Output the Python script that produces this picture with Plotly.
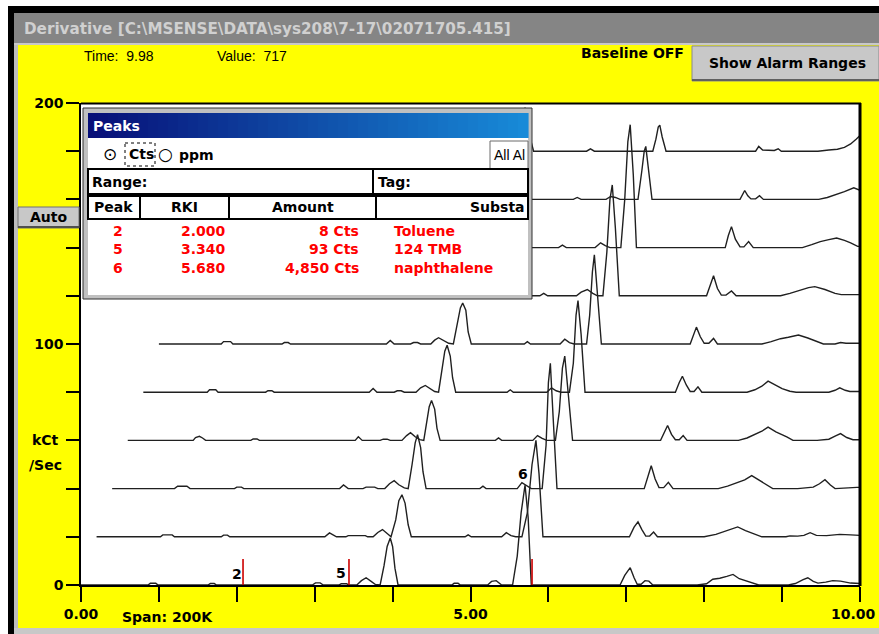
import numpy as np
import plotly.graph_objects as go

W, H = 879, 634

# ---------------- data (local time [min], local signal [kCt/s]) ----------------
scan0 = [(0.00,0),(0.86,0),(0.89,0.7),(0.96,0.7),(0.99,0),(1.63,0),(1.66,0.6),(1.71,0.6),(1.74,0),
         (2.97,0),(3.01,0.9),(3.07,0.9),(3.11,0),(3.31,0),(3.34,0.5),(3.41,0.5),(3.44,0),
         (3.54,0),(3.60,1.8),(3.66,3.0),(3.72,1.6),(3.78,0.2),(3.84,0),
         (3.89,8),(3.93,16),(3.97,19.5),(4.00,16),(4.03,7),(4.07,0),
         (4.76,0),(4.79,0.7),(4.84,0.7),(4.87,0),(5.22,0),(5.27,1.5),(5.33,1.8),(5.40,0),
         (5.54,0),(5.60,12),(5.65,30),(5.70,41.5),(5.74,28),(5.78,0),
         (6.92,0),(6.98,4),(7.05,7.2),(7.10,3),(7.14,0.3),(7.19,0.3),(7.24,1.8),(7.29,1.6),(7.34,0),
         (7.91,0),(8.03,0.5),(8.11,2.4),(8.20,2.8),(8.29,3.6),(8.37,4.4),(8.45,2.6),(8.55,1.6),(8.64,0.8),(8.70,0),
         (9.08,0),(9.17,0.6),(9.27,2.2),(9.33,3.0),(9.40,1.5),(9.46,0.8),(9.56,1.2),(9.65,1.8),(9.75,1.6),(9.88,0.8),(10.00,0.6)]
scan1 = [(0.00,0),(0.82,0),(0.85,0.8),(0.97,0.8),(1.00,0),(1.60,0),(1.63,0.7),(1.68,0.7),(1.71,0),
         (2.93,0),(2.99,1.6),(3.05,0.5),(3.08,0),(3.20,0),(3.23,0.5),(3.45,0.5),(3.48,0),
         (3.55,0),(3.61,1.8),(3.67,3.0),(3.72,1.5),(3.78,0),
         (3.84,7),(3.88,15),(3.92,17.4),(3.96,14),(4.00,5),(4.04,0),
         (4.73,0),(4.77,0.8),(4.81,0),(5.20,0),(5.26,1.7),(5.32,0.5),(5.38,0),
         (5.46,0),(5.53,10),(5.59,30),(5.64,40),(5.68,26),(5.73,0),
         (6.84,0),(6.90,4),(6.95,6.2),(7.00,3),(7.05,0.3),(7.10,0.3),(7.15,2),(7.20,0),
         (7.80,0),(7.95,1.0),(8.04,2.0),(8.12,2.8),(8.23,4.1),(8.33,2.6),(8.45,1.0),(8.54,0),
         (8.85,0),(8.90,0.4),(9.00,0.3),(9.08,0.6),(9.16,1.7),(9.24,0.6),(9.37,0.5),(9.54,1.0),(9.68,0.8),(9.80,0.6)]
scan2 = [(0.00,0),(0.80,0),(0.84,1.0),(0.96,1.0),(1.00,0),(1.57,0),(1.60,0.6),(1.66,0.6),(1.69,0),
         (2.92,0),(2.97,1.5),(3.03,0),(3.22,0),(3.26,0.6),(3.37,0.6),(3.41,0),
         (3.50,0),(3.56,2.0),(3.62,3.3),(3.68,1.6),(3.75,0.3),(3.80,0),
         (3.85,10),(3.89,19),(3.92,22.4),(3.96,17),(3.99,7),(4.03,0),
         (4.72,0),(4.76,1.0),(4.80,0),(5.20,0),(5.26,2.5),(5.32,1.2),(5.38,0),
         (5.52,0),(5.57,18),(5.60,44),(5.625,52),(5.66,30),(5.71,0),
         (6.83,0),(6.88,5),(6.92,9.5),(6.97,4),(7.02,0.4),(7.08,0.4),(7.14,2.6),(7.20,0),
         (7.78,0),(7.90,1.0),(8.02,2.5),(8.12,3.6),(8.21,5.4),(8.30,3.5),(8.40,1.5),(8.48,0),
         (8.80,0),(8.90,0.3),(9.00,0.6),(9.08,2.0),(9.15,3.7),(9.22,1.5),(9.28,0),(9.56,0.5),(9.80,0.5)]
scan3 = [(0.00,0),(0.84,0),(0.87,1.2),(0.92,1.7),(0.96,1.0),(1.00,0),(1.58,0),(1.61,0.6),(1.66,0.6),(1.69,0),
         (2.92,0),(2.96,1.5),(3.01,0),(3.24,0),(3.28,0.5),(3.33,0.5),(3.37,0),
         (3.52,0),(3.58,2.0),(3.63,3.2),(3.69,1.5),(3.75,0.3),(3.80,0),
         (3.84,8),(3.87,14),(3.90,16.6),(3.94,13),(3.97,5),(4.01,0),
         (4.72,0),(4.76,1.0),(4.80,0),(5.20,0),(5.26,2.0),(5.32,0.8),(5.38,0),
         (5.49,0),(5.54,12),(5.58,30),(5.61,35),(5.65,22),(5.71,0),
         (6.84,0),(6.89,3.5),(6.93,6.2),(6.98,2.5),(7.03,0.3),(7.08,0.3),(7.13,2.0),(7.18,0),
         (7.84,0),(7.95,1.0),(8.06,2.5),(8.14,3.8),(8.22,5.5),(8.32,3.5),(8.46,1.5),(8.54,0),
         (8.85,0),(9.00,0.5),(9.08,1.8),(9.15,2.8),(9.23,1.2),(9.31,0.3),(9.60,0.3)]
scan4 = [(0.00,0),(0.82,0),(0.85,1.0),(0.93,1.0),(0.96,0),(1.57,0),(1.60,0.6),(1.65,0.6),(1.68,0),
         (2.90,0),(2.95,1.5),(3.00,0),(3.22,0),(3.26,0.6),(3.31,0.6),(3.35,0),
         (3.50,0),(3.56,1.8),(3.62,2.8),(3.68,1.4),(3.74,0.3),(3.79,0),
         (3.83,9),(3.87,17),(3.90,19.5),(3.94,15),(3.97,6),(4.01,0),
         (4.67,0),(4.71,1.0),(4.75,0),(5.18,0),(5.24,1.8),(5.30,0.6),(5.36,0),
         (5.47,0),(5.52,12),(5.555,32),(5.58,38),(5.62,24),(5.67,0),
         (6.83,0),(6.88,4),(6.92,6.6),(6.97,3),(7.02,0.3),(7.07,0.3),(7.12,2.2),(7.17,0),
         (7.75,0),(7.85,1.0),(7.94,2.5),(8.02,4.6),(8.10,3.2),(8.20,1.5),(8.30,0.4),(8.38,0),
         (8.80,0),(8.88,0.8),(8.94,1.8),(9.01,0.8),(9.07,0.3),(9.40,0.3)]
scan5 = [(0.00,0),(0.80,0),(0.83,1.0),(0.92,1.0),(0.95,0),(1.58,0),(1.61,0.6),(1.66,0.6),(1.69,0),
         (2.92,0),(2.97,1.5),(3.02,0),(3.23,0),(3.27,0.6),(3.32,0.6),(3.36,0),
         (3.49,0),(3.54,1.6),(3.59,2.6),(3.65,1.5),(3.72,0.3),(3.78,0),
         (3.83,8),(3.87,15),(3.90,17),(3.94,14),(3.97,5),(4.01,0),
         (4.69,0),(4.73,1.0),(4.77,0),(5.15,0),(5.21,2.0),(5.27,0.6),(5.33,0),
         (5.49,0),(5.53,12),(5.565,30),(5.59,37),(5.63,22),(5.68,0),
         (6.82,0),(6.86,4),(6.90,7),(6.95,3),(7.00,0.3),(7.06,0.3),(7.12,2.3),(7.17,0),
         (7.74,0),(7.86,1.0),(7.98,2.2),(8.08,2.8),(8.21,3.7),(8.33,2.5),(8.45,1.0),(8.53,0),
         (8.68,0),(8.75,0.6),(8.82,0.3),(8.88,0.3),(9.00,0.3)]
scan6 = [(0.00,0),(0.82,0),(0.85,1.0),(0.94,1.0),(0.97,0),(1.58,0),(1.61,0.6),(1.66,0.6),(1.69,0),
         (2.92,0),(2.97,1.5),(3.02,0),(3.23,0),(3.27,0.6),(3.32,0.6),(3.36,0),
         (3.50,0),(3.56,1.8),(3.61,2.8),(3.67,1.4),(3.74,0.3),(3.79,0),
         (3.83,9),(3.87,16),(3.90,18),(3.94,14),(3.97,5),(4.01,0),
         (4.69,0),(4.74,1.0),(4.79,0),(5.16,0),(5.22,1.5),(5.30,2.6),(5.37,1.0),(5.43,0),
         (5.50,0),(5.55,18),(5.59,40),(5.62,46),(5.66,28),(5.71,0),
         (6.83,0),(6.88,5),(6.92,8.3),(6.97,3),(7.02,0.3),(7.08,0.3),(7.15,2.0),(7.21,0),
         (7.78,0),(7.90,1.0),(8.04,2.5),(8.14,3.4),(8.22,3.8),(8.35,2.6),(8.48,1.0),(8.56,0.5),(8.80,0.5)]
scan7 = [(0.00,0),(0.82,0),(0.85,1.0),(0.94,1.0),(0.97,0),(1.58,0),(1.61,0.6),(1.66,0.6),(1.69,0),
         (2.92,0),(2.97,1.5),(3.02,0),(3.23,0),(3.27,0.6),(3.32,0.6),(3.36,0),
         (3.50,0),(3.56,1.8),(3.61,2.8),(3.67,1.4),(3.74,0.3),(3.79,0),
         (3.83,9),(3.87,16),(3.90,18),(3.94,14),(3.97,5),(4.01,0),
         (4.73,0),(4.78,1.0),(4.83,0),(5.20,0),(5.27,2.0),(5.33,0.8),(5.39,0),
         (5.53,0),(5.58,20),(5.62,44),(5.65,51),(5.69,30),(5.73,0),
         (6.87,0),(6.91,5),(6.95,8.7),(7.00,3.5),(7.06,0.3),(7.11,0.3),(7.17,2.5),(7.23,0),
         (7.86,0),(7.98,1.2),(8.09,2.5),(8.20,3.3),(8.30,4.0),(8.40,3.0),(8.48,2.0),(8.57,0.5),(8.70,0.5)]
scan8 = [(0.00,0),(0.82,0),(0.85,1.0),(0.94,1.0),(0.97,0),(1.58,0),(1.61,0.6),(1.66,0.6),(1.69,0),
         (2.92,0),(2.97,1.5),(3.02,0),(3.23,0),(3.27,0.6),(3.32,0.6),(3.36,0),
         (3.50,0),(3.56,1.8),(3.61,2.8),(3.67,1.4),(3.74,0.3),(3.79,0),
         (3.83,9),(3.87,16),(3.90,18),(3.94,14),(3.97,5),(4.01,0),
         (4.72,0),(4.77,0.8),(4.82,0),(5.14,0),(5.20,1.2),(5.26,0.8),(5.32,0),
         (5.55,0),(5.60,12),(5.63,20),(5.65,22),(5.68,14),(5.73,0),
         (6.86,0),(6.89,2),(6.92,3.7),(6.96,1.5),(7.00,0.2),(7.06,0.2),(7.11,1.5),(7.16,0),
         (7.87,0),(7.98,0.8),(8.10,2.0),(8.20,3.2),(8.32,4.8),(8.40,3.8)]
scan9 = [(0.00,0),(0.82,0),(0.85,1.0),(0.94,1.0),(0.97,0),(1.58,0),(1.61,0.6),(1.66,0.6),(1.69,0),
         (2.92,0),(2.97,1.5),(3.02,0),(3.23,0),(3.27,0.6),(3.32,0.6),(3.36,0),
         (3.50,0),(3.56,1.8),(3.61,2.8),(3.67,1.4),(3.74,0.3),(3.79,0),
         (3.83,9),(3.87,16),(3.90,18),(3.94,14),(3.97,5),(4.01,0),
         (4.69,0),(4.74,1.0),(4.79,0),
         (5.54,0),(5.58,5),(5.61,10),(5.63,10.8),(5.66,6),(5.71,0),
         (6.86,0),(6.90,2.0),(6.95,0.5),(7.10,0.3),(7.15,1.0),(7.19,0),
         (7.66,0),(7.80,0.5),(7.91,0.8),(8.00,1.6),(8.08,3.0),(8.15,5.0),(8.20,6.5)]
SCANS = [scan0, scan1, scan2, scan3, scan4, scan5, scan6, scan7, scan8, scan9]
X_STEP = 0.2   # time shift per scan (waterfall)
Y_STEP = 20    # kCt/s shift per scan

peak_ids = ["2", "5", "6"]
peak_rki = [2.000, 3.340, 5.680]
peak_amount = ["8 Cts", "93 Cts", "4,850 Cts"]
peak_substance = ["Toluene", "124 TMB", "naphthalene"]
marker_times = [2.08, 3.44, 5.79]
marker_height = 10.8

x_tick_vals = list(range(0, 11))
x_tick_text = ["0.00", "", "", "", "", "5.00", "", "", "", "", ""]
x_last_label = "10.00"
y_tick_vals = list(range(0, 201, 20))
y_tick_text = ["0", "", "", "", "", "100", "", "", "", "", "200"]

# ---------------- figure ----------------
FONT = "DejaVu Sans"
fig = go.Figure()

for k, scan in enumerate(SCANS):
    t = np.array([p[0] for p in scan]) + k * X_STEP
    v = np.array([p[1] for p in scan]) + k * Y_STEP
    fig.add_trace(go.Scatter(x=t, y=v, mode="lines",
                             line=dict(color="#202020", width=1.4),
                             hoverinfo="skip", showlegend=False))

mx, my = [], []
for t in marker_times:
    mx += [t, t, None]
    my += [0, marker_height, None]
fig.add_trace(go.Scatter(x=mx, y=my, mode="lines", line=dict(color="#cc0000", width=1.6),
                         hoverinfo="skip", showlegend=False))

front_t = np.array([p[0] for p in scan0])
front_v = np.array([p[1] for p in scan0])
annotations = []
for pid, r in zip(peak_ids, peak_rki):
    win = (front_t > r - 0.06) & (front_t < r + 0.06)
    top = max(np.interp(r, front_t, front_v), front_v[win].max() if win.any() else 0)
    annotations.append(dict(x=r, y=top, xref="x", yref="y", text="<b>%s</b>" % pid,
                            showarrow=False, xanchor="center", yanchor="bottom", yshift=1,
                            font=dict(family=FONT, size=14, color="black")))


def PX(x):
    return x / W


def PY(y):
    return 1 - y / H


shapes = []


def rect(x0, y0, x1, y1, fill, line=None, lw=0, dash=None):
    ln = dict(width=lw, color=line if line else fill)
    if dash:
        ln["dash"] = dash
    shapes.append(dict(type="rect", xref="paper", yref="paper", x0=PX(x0), x1=PX(x1),
                       y0=PY(y0), y1=PY(y1), fillcolor=fill, line=ln, layer="above"))


def seg(x0, y0, x1, y1, color, lw=1):
    shapes.append(dict(type="line", xref="paper", yref="paper", x0=PX(x0), x1=PX(x1),
                       y0=PY(y0), y1=PY(y1), line=dict(color=color, width=lw), layer="above"))


def txt(x, y, s, size=14, color="black", bold=True, xanchor="left", family=FONT):
    annotations.append(dict(x=PX(x), y=PY(y), xref="paper", yref="paper",
                            text=("<b>%s</b>" % s) if bold else s, showarrow=False,
                            xanchor=xanchor, yanchor="middle",
                            font=dict(family=family, size=size, color=color)))


# window frame
rect(0, 0, W, 7, "white")
rect(0, 0, 8, H, "white")
rect(8, 6, W, 13, "black")
rect(8, 6, 14, H, "black")
rect(14, 13, 18, H, "#bdbdbd")
rect(14, 13, W, 43, "#858585")
rect(14, 43, W, 45, "#c8c8c8")
rect(14, 628, W, H, "#c8c8c8")
txt(22, 29, r"Derivative [C:\MSENSE\DATA\sys208\7-17\02071705.415]", size=15.2, color="#d0d0d0")

# header texts and buttons
nb = "\u00a0"
txt(82, 56, "Time:" + nb * 2 + "9.98", size=14, bold=False, family="Liberation Sans")
txt(215, 56, "Value:" + nb * 2 + "717", size=14, bold=False, family="Liberation Sans")
txt(579, 53, "Baseline OFF", size=14)
rect(692, 46, W, 81, "#c8c8c8", "#8a8a8a", 1)
seg(692, 80, W, 80, "#606060", 2)
txt(787, 63, "Show Alarm Ranges", size=14, xanchor="center")
rect(18, 207, 79, 228, "#c8c8c8", "#707070", 1)
seg(18, 227, 79, 227, "#505050", 2)
txt(48, 217, "Auto", size=14, xanchor="center")
txt(45, 440, "kCt", size=14, xanchor="center")
txt(45, 465, "/Sec", size=14, xanchor="center")
txt(120, 617, "Span: 200K", size=14)
# last x tick label, kept inside the window edge
annotations.append(dict(x=1.0, y=PY(614), xref="paper", yref="paper",
                        text="<b>%s</b>" % x_last_label, showarrow=False,
                        xanchor="right", yanchor="middle", xshift=-1,
                        font=dict(family=FONT, size=14, color="black")))

# plot borders
seg(81, 103.5, 861, 103.5, "black", 2)
seg(860, 103, 860, 586, "black", 3)

# Peaks panel
rect(83, 108, 532, 299, "#c0c0c0", "#303030", 1)
rect(88, 138, 528, 295, "white")
n = 44
c0 = np.array([8, 16, 120])
c1 = np.array([24, 138, 216])
for i in range(n):
    c = c0 + (c1 - c0) * i / (n - 1)
    xa = 88 + (528 - 88) * i / n
    xb = 88 + (528 - 88) * (i + 1) / n + 0.6
    rect(xa, 113, xb, 138, "rgb(%d,%d,%d)" % tuple(c.astype(int)))
txt(91, 126, "Peaks", size=14, color="white")
txt(110, 154, "\u2299", size=17, bold=False, xanchor="center")
rect(125, 143, 155, 166, "rgba(0,0,0,0)", "black", 1, "dot")
txt(127, 154, "Cts", size=14)
txt(165, 154, "\u25cb", size=17, bold=False, xanchor="center")
txt(177, 155, "ppm", size=14)
rect(490, 141, 528, 169, "white", "#6a6a6a", 1)
txt(492, 155, "All Al", size=14, bold=False, family="Liberation Sans")
rect(88, 169, 373, 194, "white", "black", 2)
rect(373, 169, 528, 194, "white", "black", 2)
txt(90, 182, "Range:", size=14)
txt(376, 182, "Tag:", size=14)
cols = [(88, 140, "Peak"), (140, 229, "RKI"), (229, 376, "Amount")]
for a, b, s in cols:
    rect(a, 196, b, 219, "white", "black", 2)
    txt((a + b) / 2, 207, s, size=14, xanchor="center")
rect(376, 196, 528, 219, "white", "black", 2)
txt(527, 207, "Substa", size=14, xanchor="right")
row_y = [231, 249, 268]
for y, pid, r, amt, sub in zip(row_y, peak_ids, peak_rki, peak_amount, peak_substance):
    txt(118, y, pid, size=14, color="#ff0000", xanchor="center")
    txt(228, y, "%.3f" % r, size=14, color="#ff0000", xanchor="right")
    txt(361, y, amt, size=14, color="#ff0000", xanchor="right")
    txt(392, y, sub, size=14, color="#ff0000")

axis_font = dict(family=FONT, size=14, color="black")
fig.update_layout(
    width=W, height=H, margin=dict(l=0, r=0, t=0, b=0, autoexpand=False),
    paper_bgcolor="#ffff00", plot_bgcolor="white",
    showlegend=False, shapes=shapes, annotations=annotations,
    xaxis=dict(domain=[81 / W, 860 / W], range=[0, 10], tickvals=x_tick_vals,
               ticktext=["<b>%s</b>" % s if s else "" for s in x_tick_text],
               ticks="outside", ticklen=15, tickwidth=1.5, tickcolor="black",
               showline=True, linecolor="black", linewidth=1.5, showgrid=False,
               zeroline=False, tickfont=axis_font, fixedrange=True, automargin=False,
               ticklabeloverflow="allow"),
    yaxis=dict(domain=[1 - 585 / H, 1 - 103 / H], range=[0, 200], tickvals=y_tick_vals,
               ticktext=["<b>%s</b>" % s if s else "" for s in y_tick_text],
               ticks="outside", ticklen=13, tickwidth=1.5, tickcolor="black",
               showline=True, linecolor="black", linewidth=1.5, showgrid=False,
               zeroline=False, tickfont=axis_font, fixedrange=True, automargin=False,
               ticklabeloverflow="allow"),
)

fig.write_html("out.html", config={"displayModeBar": False})
